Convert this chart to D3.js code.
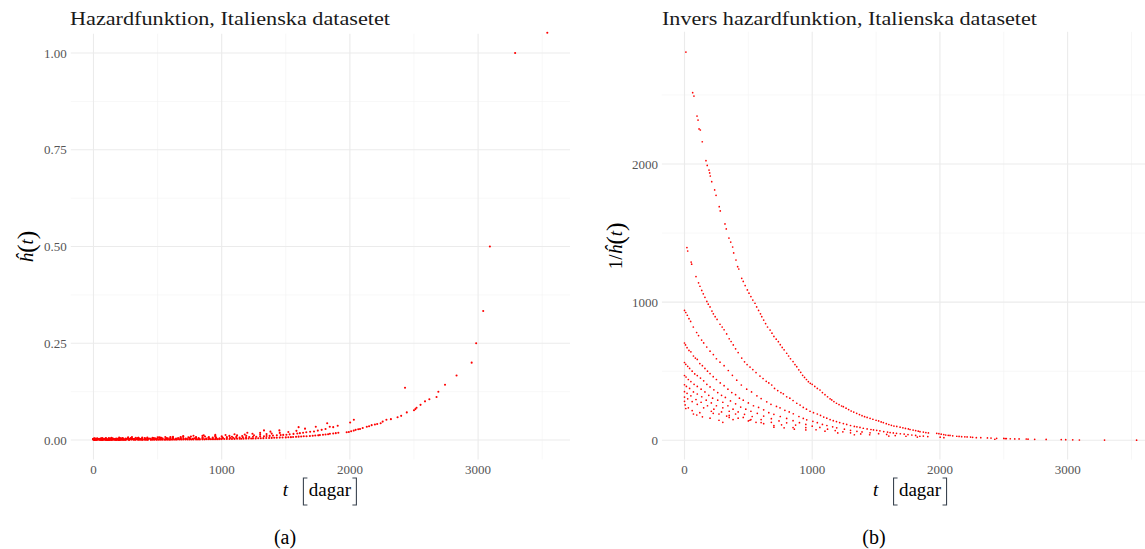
<!DOCTYPE html>
<html>
<head>
<meta charset="utf-8">
<script src="https://cdn.jsdelivr.net/npm/d3@7"></script>
<style>
  body { margin: 0; background: #fff; }
  text { font-family: "Liberation Serif", "DejaVu Serif", serif; }
</style>
</head>
<body>
<script>
// inverse hazard 1/h(t), one array per tie count band
var curve1 = [[11,2810],[64,2516],[74,2492],[98,2347],[106,2318],[114,2254],[124,2246],[139,2161],[168,2024],[178,1990],[192,1956],[197,1935],[202,1913],[213,1872],[236,1812],[247,1773],[272,1691],[280,1660],[317,1566],[327,1530],[348,1464],[362,1435],[377,1399],[385,1356],[403,1305],[416,1257],[425,1240],[448,1172],[460,1150],[475,1120],[492,1088],[505,1065],[520,1040],[535,1015],[552,992],[565,965],[580,940],[595,915],[605,895],[620,870],[635,845],[650,820],[670,798],[685,775],[700,752],[718,732],[735,714],[750,692],[765,672],[780,655],[800,630],[815,610],[830,590],[850,570],[865,548],[879,533],[895,510],[910,492],[925,470],[940,455],[955,440],[970,424],[985,412],[1000,405],[1020,390],[1040,375],[1061,364],[1080,345],[1100,330],[1120,315],[1140,300],[1153,292],[1170,280],[1190,268],[1210,258],[1230,248],[1244,243],[1265,232],[1285,222],[1305,212],[1325,204],[1348,195],[1370,186],[1390,178],[1410,171],[1430,165],[1453,159],[1475,152],[1500,145],[1520,140],[1540,133],[1557,128],[1580,120],[1600,114],[1620,108],[1640,103],[1662,100],[1688,95],[1710,90],[1730,86],[1753,82],[1766,78],[1790,74],[1810,70],[1830,66],[1844,62],[1870,59],[1890,56],[1910,53],[1975,50],[1992,48],[2010,44],[2030,41],[2045,38],[2065,36],[2079,35],[2100,32],[2132,29],[2150,28],[2170,26],[2195,25],[2213,24],[2240,23],[2256,21],[2285,19],[2320,18.5],[2372,17],[2400,16],[2444,14],[2500,13],[2511,12.5],[2520,12],[2551,11],[2586,10],[2620,9.5],[2676,9],[2690,8],[2742,7],[2832,6],[2950,5],[2985,4],[3040,3],[3092,2],[3289,1],[3540,0.95]]

var curve2 = [[19,1395],[25,1370],[52,1290],[56,1275],[90,1185],[110,1140],[121,1115],[135,1085],[147,1060],[160,1035],[175,1005],[186,985],[200,965],[215,935],[226,915],[240,895],[255,875],[278,840],[295,820],[310,800],[330,770],[350,735],[365,715],[382,690],[400,662],[420,635],[448,595],[470,568],[490,548],[513,530],[535,512],[560,490],[591,465],[615,447],[640,427],[660,415],[683,400],[705,375],[730,360],[755,345],[774,336],[800,315],[825,305],[850,288],[879,268],[905,255],[930,238],[955,225],[983,210],[1010,200],[1040,190],[1065,180],[1090,168],[1114,160],[1140,150],[1165,142],[1190,135],[1215,128],[1244,121],[1270,115],[1300,107],[1330,100],[1350,97],[1374,93],[1400,87],[1430,82],[1460,78],[1480,75],[1505,72],[1530,68],[1560,63],[1590,59],[1610,56],[1635,53],[1660,50],[1690,47],[1720,45],[1750,41],[1780,38],[1810,35],[1843,29],[1870,30],[1905,27],[2002,22],[2031,19],[2430,7.4]]

var curve3 = [[0,940],[10,925],[22,905],[35,880],[48,860],[69,820],[95,780],[110,758],[134,725],[150,705],[174,675],[200,645],[226,620],[250,590],[278,565],[310,540],[343,505],[375,470],[409,435],[445,400],[487,370],[525,350],[567,322],[600,302],[644,278],[677,260],[720,245],[748,235],[786,217],[820,205],[852,192],[896,172],[930,158],[957,148],[1005,137],[1040,127],[1080,115],[1115,107],[1160,97],[1192,90],[1252,80],[1300,72],[1350,65],[1390,60],[1453,54],[1520,48],[1583,42],[1650,34],[1734,29],[1823,23]]

var curve4 = [[0,704],[8,690],[20,670],[35,650],[50,640],[70,610],[85,595],[100,585],[120,555],[140,540],[160,520],[180,500],[200,483],[225,460],[250,440],[280,415],[310,395],[340,370],[370,345],[400,330],[430,305],[460,290],[500,270],[540,250],[580,238],[620,220],[660,200],[700,188],[750,172],[800,158],[850,142],[900,127],[950,115],[1000,102],[1060,93],[1120,80],[1180,70],[1240,61],[1300,54],[1380,46],[1450,40]]

var curve5 = [[0,563],[10,550],[25,535],[40,520],[60,500],[80,480],[100,468],[125,450],[150,430],[175,405],[200,386],[230,365],[260,345],[290,325],[320,310],[360,285],[400,264],[440,240],[480,225],[520,210],[570,195],[620,175],[680,156],[740,140],[800,126],[870,110],[950,92],[1030,76],[1100,66],[1200,53]]

var curve6 = [[0,469],[12,458],[30,440],[50,425],[75,405],[100,390],[130,370],[160,350],[190,325],[220,305],[260,290],[300,275],[340,250],[380,225],[420,205],[470,188],[530,172],[600,150],[680,130],[760,112],[850,92],[950,75]]

var curve7 = [[0,402],[15,390],[40,375],[70,350],[100,335],[135,315],[170,290],[210,270],[250,250],[300,235],[350,210],[400,190],[460,165],[520,150],[600,128],[700,107]]

var curve8 = [[0,352],[20,340],[50,322],[90,295],[130,275],[180,250],[230,225],[290,205],[350,180],[420,160],[500,140]]

var curve9 = [[0,313],[25,300],[60,280],[100,260],[150,235],[210,210],[270,190],[350,165]]

var scattered = [[0,282],[5,256],[10,230],[30,235],[60,215],[70,190],[96,183],[120,200],[140,170],[200,160],[225,195],[270,145],[300,130],[330,175],[380,150],[512,145],[560,130],[620,120],[700,95],[780,90],[860,80],[1330,40],[1600,30]]

var xTicks = [0, 1000, 2000, 3000]
var xMinor = [500, 1500, 2500, 3500]
var hazTicks = [0, 0.25, 0.5, 0.75, 1]
var hazMinor = [0.125, 0.375, 0.625, 0.875]
var invTicks = [0, 1000, 2000]
var invMinor = [500, 1500, 2500]

var points = [].concat(curve1, curve2, curve3, curve4, curve5, curve6, curve7, curve8, curve9, scattered)

var width = 1145,
    height = 549

var svg = d3.select('body').append('svg')
    .attr('width', width)
    .attr('height', height)

svg.append('rect').attr('width', width).attr('height', height).attr('fill', '#fff')

function panel(opt) {
    var g = svg.append('g')
    var x = opt.x, y = opt.y
    var x0 = x.range()[0], x1 = x.range()[1],
        y0 = y.range()[0], y1 = y.range()[1]

    // grid
    opt.yMinor.forEach(v => {
        g.append('line').attr('x1', x0).attr('x2', x1).attr('y1', y(v)).attr('y2', y(v))
            .attr('stroke', '#f2f2f2').attr('stroke-width', 0.6)
    })
    xMinor.forEach(v => {
        g.append('line').attr('x1', x(v)).attr('x2', x(v)).attr('y1', y0).attr('y2', y1)
            .attr('stroke', '#f2f2f2').attr('stroke-width', 0.6)
    })
    opt.yTicks.forEach(v => {
        g.append('line').attr('x1', x0).attr('x2', x1).attr('y1', y(v)).attr('y2', y(v))
            .attr('stroke', '#ebebeb').attr('stroke-width', 1.1)
    })
    xTicks.forEach(v => {
        g.append('line').attr('x1', x(v)).attr('x2', x(v)).attr('y1', y0).attr('y2', y1)
            .attr('stroke', '#ebebeb').attr('stroke-width', 1.1)
    })

    // tick labels
    g.selectAll('.yt').data(opt.yTicks).enter().append('text')
        .attr('x', x0 - 4).attr('y', d => y(d)).attr('dy', '0.35em')
        .attr('text-anchor', 'end').attr('font-size', 13).attr('fill', '#555')
        .text(opt.yFormat)
    g.selectAll('.xt').data(xTicks).enter().append('text')
        .attr('x', d => x(d)).attr('y', y0 + 10).attr('dy', '0.35em')
        .attr('text-anchor', 'middle').attr('font-size', 13).attr('fill', '#555')
        .text(d => d)

    // points
    g.selectAll('circle').data(points).enter().append('circle')
        .attr('cx', d => x(d[0]))
        .attr('cy', d => y(opt.value(d)))
        .attr('r', opt.r)
        .attr('fill', '#ff0000')

    // title
    g.append('text').attr('x', opt.titleX).attr('y', 25)
        .attr('font-size', 19).attr('fill', '#1a1a1a')
        .attr('textLength', opt.titleLen).attr('lengthAdjust', 'spacingAndGlyphs')
        .text(opt.title)

    // x axis title: t [dagar]
    var cx = (x0 + x1) / 2
    g.append('text').attr('x', cx - 35).attr('y', 496).attr('font-size', 19)
        .attr('font-style', 'italic').attr('text-anchor', 'middle').text('t')
    g.append('text').attr('x', cx + 9.5).attr('y', 496).attr('font-size', 19)
        .attr('text-anchor', 'middle').text('dagar')
    var bl = cx - 17, br = cx + 36
    g.append('path').attr('d', `M${bl + 4},478H${bl}V505H${bl + 4}`)
        .attr('fill', 'none').attr('stroke', '#3a4450').attr('stroke-width', 1.1)
    g.append('path').attr('d', `M${br - 4},478H${br}V505H${br - 4}`)
        .attr('fill', 'none').attr('stroke', '#3a4450').attr('stroke-width', 1.1)

    // y axis title
    var yt = g.append('text')
        .attr('transform', `translate(${opt.yTitleX},${(y0 + y1) / 2}) rotate(-90)`)
        .attr('text-anchor', 'middle').attr('font-size', 19)
    if (opt.yPrefix) yt.append('tspan').text(opt.yPrefix)
    yt.append('tspan').attr('font-style', 'italic').text('ĥ')
    yt.append('tspan').attr('font-size', 26).attr('dy', 2).text('(')
    yt.append('tspan').attr('font-style', 'italic').attr('dy', -2).text('t')
    yt.append('tspan').attr('font-size', 26).attr('dy', 2).text(')')

    // caption
    g.append('text').attr('x', opt.capX).attr('y', 544).attr('font-size', 20)
        .attr('text-anchor', 'middle').text(opt.caption)
}

var xLeft = d3.scaleLinear().domain([-177, 3717]).range([70.8, 570])
var yLeft = d3.scaleLinear().domain([-0.05, 1.05]).range([459.4, 33.7])
var xRight = d3.scaleLinear().domain([-177, 3717]).range([661.9, 1159.2])
var yRight = d3.scaleLinear().domain([-140, 2957]).range([459.6, 31.8])

panel({
    x: xLeft, y: yLeft,
    yTicks: hazTicks, yMinor: hazMinor,
    yFormat: d3.format('.2f'),
    value: d => 1 / d[1], r: 1.05,
    title: 'Hazardfunktion, Italienska datasetet', titleX: 70, titleLen: 320,
    yTitleX: 33, yPrefix: null,
    caption: '(a)', capX: 285
})

panel({
    x: xRight, y: yRight,
    yTicks: invTicks, yMinor: invMinor,
    yFormat: d => d,
    value: d => d[1], r: 0.85,
    title: 'Invers hazardfunktion, Italienska datasetet', titleX: 662, titleLen: 375,
    yTitleX: 622, yPrefix: '1/',
    caption: '(b)', capX: 874
})
</script>
</body>
</html>
